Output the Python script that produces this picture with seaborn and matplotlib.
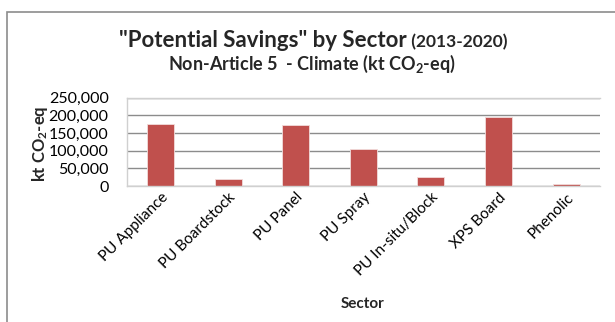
import matplotlib
matplotlib.use("Agg")
import matplotlib.pyplot as plt
import matplotlib.patches as mpatches
from matplotlib.ticker import FuncFormatter
import pandas as pd
import seaborn as sns

# Potential savings per foam sector, kt CO2-eq (2013-2020)
sectors = ["PU Appliance", "PU Boardstock", "PU Panel", "PU Spray",
           "PU In-situ/Block", "XPS Board", "Phenolic"]
savings = [176000, 19000, 172000, 105000, 25000, 194000, 5000]
y_ticks = [0, 50000, 100000, 150000, 200000, 250000]

df = pd.DataFrame({"Sector": sectors, "Savings": savings})

sns.set_theme(style="white")
FONT = "Lato"
plt.rcParams["font.family"] = [FONT, "DejaVu Sans"]
plt.rcParams["mathtext.fontset"] = "custom"
plt.rcParams["mathtext.rm"] = f"{FONT}:bold"
plt.rcParams["mathtext.default"] = "rm"

W, H = 615, 322
fig = plt.figure(figsize=(W / 100, H / 100), dpi=100)
fig.patch.set_facecolor("white")

# outer chart frame (continues past the right/bottom edge)
fig.patches.append(mpatches.Rectangle((7 / W, -0.1), 1.2, 1 - 12 / H + 0.1,
                                      transform=fig.transFigure, fill=False,
                                      edgecolor="#8c8c8c", linewidth=1.2))

L, R, T, B = 126.7, 600, 97.5, 186
ax = fig.add_axes([L / W, 1 - B / H, (R - L) / W, (B - T) / H])
sns.barplot(data=df, x="Sector", y="Savings", color="#C0504D", width=0.4,
            edgecolor="#f2dcdb", linewidth=0.6, saturation=1, ax=ax)

ax.set_ylim(0, 250000)
ax.set_yticks(y_ticks)
ax.yaxis.set_major_formatter(FuncFormatter(lambda v, p: f"{int(v):,}"))
ax.yaxis.grid(True, color="#8c8c8c", linewidth=1)
ax.set_axisbelow(True)
for side in ["left", "bottom", "top"]:
    ax.spines[side].set_color("#d0d0d0")
    ax.spines[side].set_linewidth(1)
ax.spines["right"].set_visible(False)

ax.tick_params(axis="y", labelsize=11.5, length=0, pad=13, colors="#000000")
ax.tick_params(axis="x", labelsize=11, length=0, pad=3, colors="#000000")
plt.setp(ax.get_xticklabels(), rotation=45, ha="right", rotation_mode="anchor")

ax.set_xlabel("Sector", fontsize=11, fontweight="bold")
ax.set_ylabel("kt CO$_2$-eq", fontsize=12, fontweight="bold")
ax.xaxis.set_label_coords((363 - L) / (R - L), -(297 - B) / (B - T))
ax.yaxis.set_label_coords((40 - L) / (R - L), (B - 144) / (B - T))
ax.yaxis.label.set_va("center")

# two-part title centred over the chart frame
fig.canvas.draw()
renderer = fig.canvas.get_renderer()
t1 = fig.text(0, 1 - 47 / H, "\"Potential Savings\" by Sector", fontsize=16,
              fontweight="bold", ha="left", va="baseline")
t2 = fig.text(0, 1 - 47 / H, " (2013-2020)", fontsize=12.5,
              fontweight="bold", ha="left", va="baseline")
w1 = t1.get_window_extent(renderer).width
w2 = t2.get_window_extent(renderer).width
x0 = 313 - (w1 + w2) / 2
t1.set_x(x0 / W)
t2.set_x((x0 + w1) / W)

fig.text(312 / W, 1 - 70 / H, "Non-Article 5  - Climate (kt CO$_2$-eq)",
         fontsize=13, fontweight="bold", ha="center", va="baseline")

fig.savefig("out.png", dpi=100, facecolor="white")
